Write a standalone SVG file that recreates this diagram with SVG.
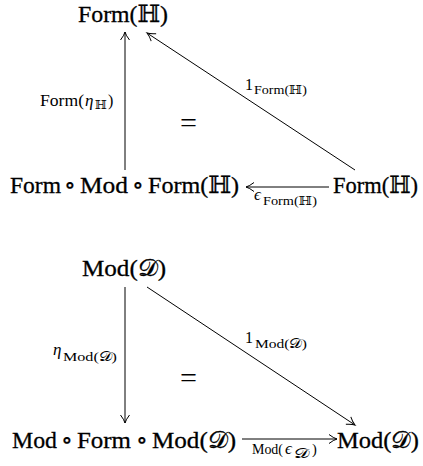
<svg xmlns="http://www.w3.org/2000/svg" width="423" height="466" viewBox="0 0 423 466">
<style>
text { font-family: "Liberation Serif", "DejaVu Serif", serif; fill: #000; }
.node { font-size: 24px; stroke: #000; stroke-width: 0.3; }
.lbl { font-size: 16px; }
.sm { font-size: 14.5px; }
.sub { font-size: 12.5px; }
.eq { font-size: 28px; }
.it { font-style: italic; font-size: 17px; }
.edge { stroke: #000; stroke-width: 1; fill: none; }
</style>
<defs>
<marker id="ah" markerWidth="12" markerHeight="12" viewBox="-10 -6 12 12" refX="0" refY="0" orient="auto" markerUnits="userSpaceOnUse">
<path d="M -8 -4.5 Q -3.5 -1 0 0 Q -3.5 1 -8 4.5" fill="none" stroke="#000" stroke-width="1"/>
</marker>
</defs>
<rect width="423" height="466" fill="#fff"/>

<g id="connectors">
<line id="e1" class="edge" x1="125" y1="170" x2="125" y2="32" marker-end="url(#ah)"/>
<line id="e2" class="edge" x1="355" y1="170" x2="147" y2="33" marker-end="url(#ah)"/>
<line id="e3" class="edge" x1="329" y1="187" x2="246" y2="187" marker-end="url(#ah)"/>
<line id="e4" class="edge" x1="125" y1="287" x2="125" y2="423" marker-end="url(#ah)"/>
<line id="e5" class="edge" x1="147" y1="287" x2="355" y2="425" marker-end="url(#ah)"/>
<line id="e6" class="edge" x1="242" y1="439" x2="337" y2="439" marker-end="url(#ah)"/>
</g>

<g id="labels">
<text class="lbl" y="106"><tspan x="40" textLength="44" lengthAdjust="spacingAndGlyphs">Form(</tspan><tspan x="85" class="it">η</tspan><tspan class="sub" x="95" y="109" textLength="12" lengthAdjust="spacingAndGlyphs">ℍ</tspan><tspan x="108" y="106">)</tspan></text>
<text class="lbl" y="90"><tspan x="245">1</tspan><tspan class="sub" x="254" y="94" textLength="53" lengthAdjust="spacingAndGlyphs">Form(ℍ)</tspan></text>
<text class="lbl" y="200"><tspan x="254" class="it">ϵ</tspan><tspan class="sub" x="263" y="205" textLength="54" lengthAdjust="spacingAndGlyphs">Form(ℍ)</tspan></text>
<text class="eq" x="180" y="132" textLength="17" lengthAdjust="spacingAndGlyphs">=</text>
<text class="lbl" y="355"><tspan x="53" class="it">η</tspan><tspan class="sub" x="63" y="361" textLength="54" lengthAdjust="spacingAndGlyphs">Mod(𝒟)</tspan></text>
<text class="lbl" y="343"><tspan x="245">1</tspan><tspan class="sub" x="255" y="348" textLength="52" lengthAdjust="spacingAndGlyphs">Mod(𝒟)</tspan></text>
<text class="eq" x="180" y="387" textLength="17" lengthAdjust="spacingAndGlyphs">=</text>
<text class="lbl" y="454"><tspan class="sm" x="252" textLength="31" lengthAdjust="spacingAndGlyphs">Mod(</tspan><tspan x="285" class="it">ϵ</tspan><tspan class="sub" x="294" y="458" textLength="15" lengthAdjust="spacingAndGlyphs">𝒟</tspan><tspan class="sm" x="312" y="454">)</tspan></text>
</g>

<g id="n1"><text class="node" x="78" y="22" textLength="90" lengthAdjust="spacingAndGlyphs">Form(ℍ)</text></g>
<g id="n2"><text class="node" y="193"><tspan x="10" textLength="51" lengthAdjust="spacingAndGlyphs">Form</tspan><tspan x="64">∘</tspan><tspan x="80" textLength="48" lengthAdjust="spacingAndGlyphs">Mod</tspan><tspan x="132">∘</tspan><tspan x="148" textLength="91" lengthAdjust="spacingAndGlyphs">Form(ℍ)</tspan></text></g>
<g id="n3"><text class="node" x="333" y="193" textLength="85" lengthAdjust="spacingAndGlyphs">Form(ℍ)</text></g>
<g id="n4"><text class="node" x="82" y="276" textLength="84" lengthAdjust="spacingAndGlyphs">Mod(𝒟)</text></g>
<g id="n5"><text class="node" y="448"><tspan x="12" textLength="45" lengthAdjust="spacingAndGlyphs">Mod</tspan><tspan x="61">∘</tspan><tspan x="77" textLength="54" lengthAdjust="spacingAndGlyphs">Form</tspan><tspan x="136">∘</tspan><tspan x="152" textLength="84" lengthAdjust="spacingAndGlyphs">Mod(𝒟)</tspan></text></g>
<g id="n6"><text class="node" x="337" y="448" textLength="82" lengthAdjust="spacingAndGlyphs">Mod(𝒟)</text></g>
</svg>
